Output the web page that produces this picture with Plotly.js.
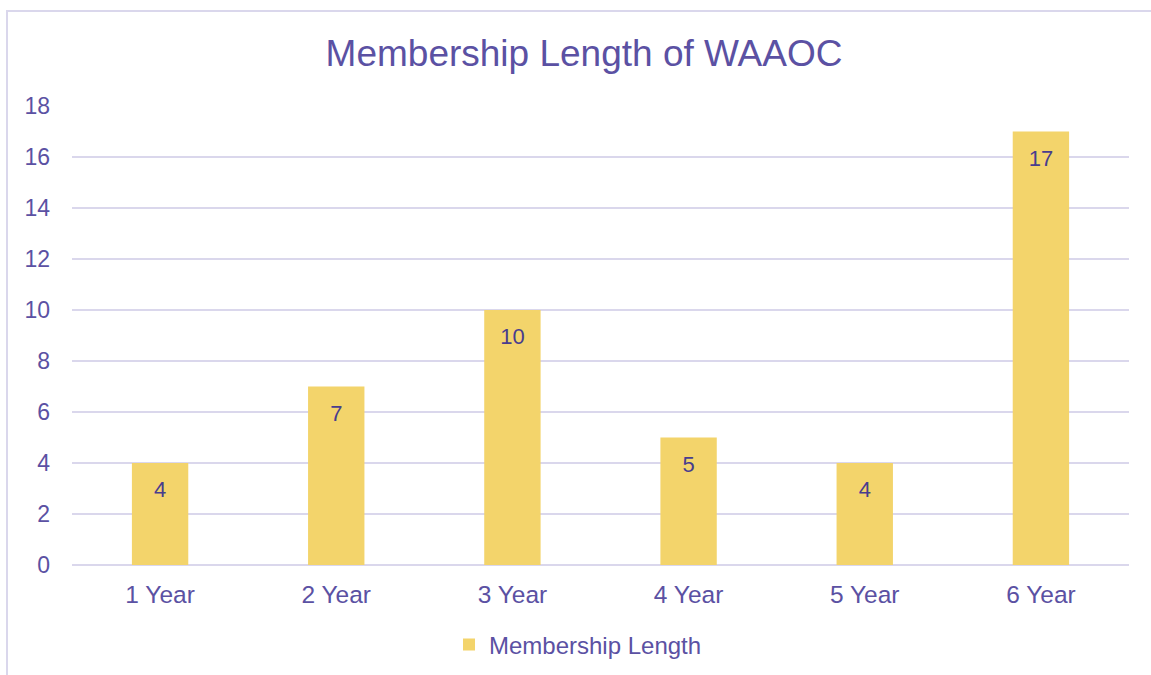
<!DOCTYPE html>
<html>
<head>
<meta charset="utf-8">
<script src="https://cdn.plot.ly/plotly-3.0.1.min.js"></script>
<style>
  body { margin: 0; background: #ffffff; }
  #frame { position: absolute; left: 6px; top: 10px; width: 1200px; height: 700px;
           border-left: 2px solid #dad7ec; border-top: 2px solid #dad7ec; }
  #chart { position: absolute; left: 0; top: 0; width: 1151px; height: 675px; }
</style>
</head>
<body>
<div id="frame"></div>
<div id="chart"></div>
<script>
const categories = ["1 Year", "2 Year", "3 Year", "4 Year", "5 Year", "6 Year"];
const memberCounts = [4, 7, 10, 5, 4, 17];
const seriesName = "Membership Length";
const chartTitle = "Membership Length of WAAOC";

const textColor = "#5b51a3";
const font = "Liberation Sans, Arial, sans-serif";

const barTrace = {
  type: "bar",
  x: categories,
  y: memberCounts,
  name: seriesName,
  marker: { color: "#f3d46b" },
  hoverinfo: "none"
};

const labelTrace = {
  type: "scatter",
  mode: "markers+text",
  x: categories,
  y: memberCounts,
  text: memberCounts.map(String),
  textposition: "bottom center",
  textfont: { family: font, size: 22, color: "#483d8e" },
  marker: { size: 27, opacity: 0 },
  showlegend: false,
  hoverinfo: "none",
  cliponaxis: false
};

const layout = {
  width: 1151,
  height: 675,
  paper_bgcolor: "rgba(0,0,0,0)",
  plot_bgcolor: "rgba(0,0,0,0)",
  margin: { l: 72, r: 22, t: 106, b: 110, autoexpand: false },
  bargap: 0.68,
  font: { family: font, color: textColor, size: 24 },
  title: {
    text: chartTitle,
    font: { family: font, size: 37, color: textColor },
    xref: "container", x: 584 / 1151, xanchor: "center",
    yref: "container", y: 1 - 53 / 675, yanchor: "middle"
  },
  xaxis: {
    type: "category",
    showgrid: false,
    showline: false,
    zeroline: false,
    ticks: "",
    tickfont: { family: font, size: 24.5, color: textColor },
    ticklabelstandoff: 12
  },
  yaxis: {
    range: [0, 18],
    dtick: 2,
    showgrid: true,
    gridcolor: "#dad7ec",
    gridwidth: 2,
    zeroline: true,
    zerolinecolor: "#dad7ec",
    zerolinewidth: 2,
    showline: false,
    ticks: "",
    tickfont: { family: font, size: 23, color: textColor },
    ticklabelstandoff: 21
  },
  showlegend: true,
  legend: {
    orientation: "h",
    x: (449 - 72) / 1057, xanchor: "left",
    y: -0.174, yanchor: "middle",
    font: { family: font, size: 24, color: textColor },
    bgcolor: "rgba(0,0,0,0)"
  }
};

Plotly.newPlot("chart", [barTrace, labelTrace], layout, { displayModeBar: false, staticPlot: true });
</script>
</body>
</html>
